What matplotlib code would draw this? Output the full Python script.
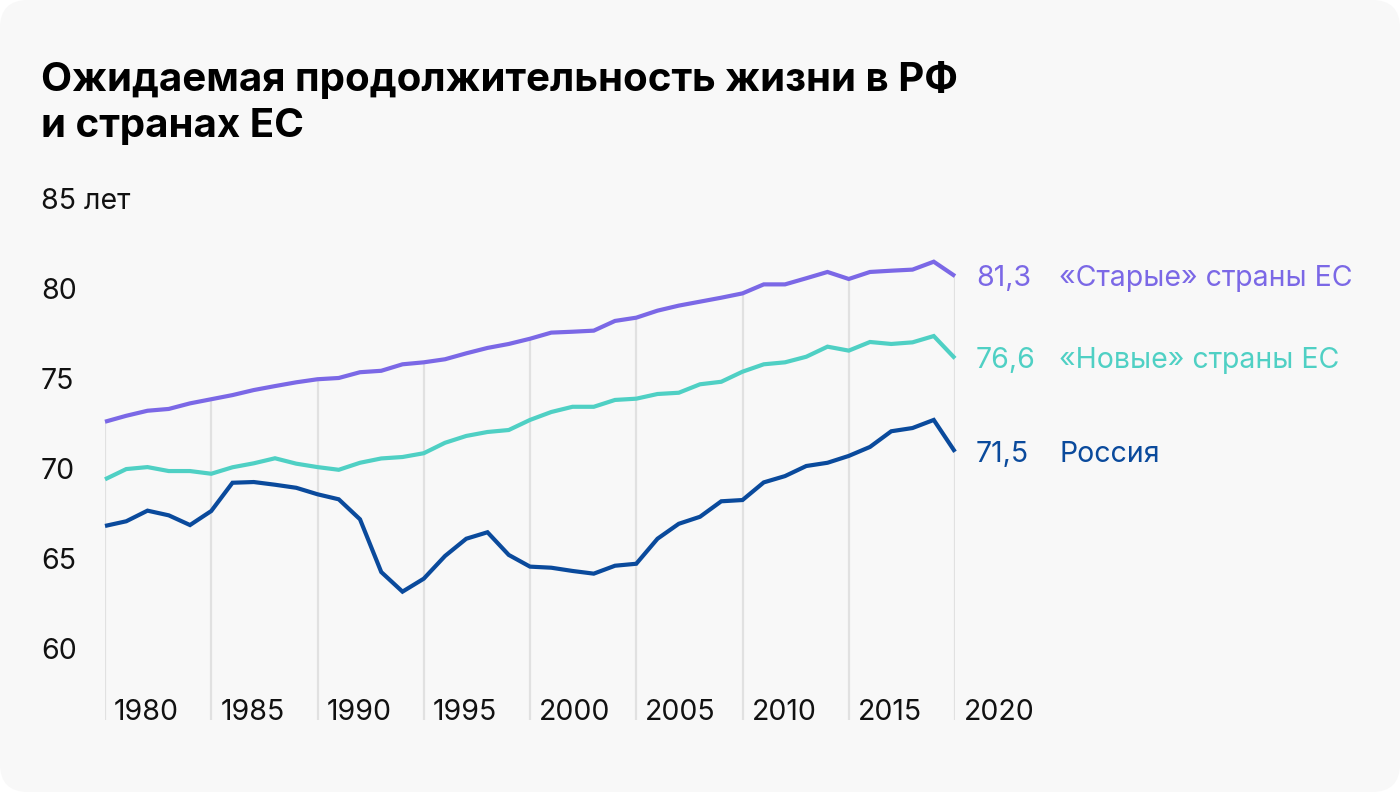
import matplotlib
matplotlib.use("Agg")
import matplotlib.pyplot as plt
from matplotlib.patches import FancyBboxPatch
from matplotlib.transforms import blended_transform_factory

years = list(range(1980, 2021))
old_eu = [73.16, 73.49, 73.77, 73.87, 74.18, 74.41, 74.64, 74.92, 75.14, 75.35,
          75.52, 75.59, 75.91, 75.99, 76.35, 76.46, 76.63, 76.96, 77.26, 77.48,
          77.77, 78.11, 78.16, 78.22, 78.76, 78.94, 79.33, 79.61, 79.83, 80.05,
          80.29, 80.79, 80.79, 81.13, 81.48, 81.09, 81.48, 81.55, 81.61, 82.05,
          81.25]
new_eu = [69.96, 70.53, 70.64, 70.42, 70.42, 70.27, 70.63, 70.85, 71.13, 70.83,
          70.64, 70.49, 70.88, 71.12, 71.20, 71.41, 71.99, 72.37, 72.59, 72.70,
          73.26, 73.70, 73.99, 73.99, 74.37, 74.44, 74.70, 74.77, 75.24, 75.38,
          75.94, 76.35, 76.46, 76.77, 77.33, 77.11, 77.59, 77.48, 77.57, 77.92,
          76.68]
russia = [67.37, 67.63, 68.22, 67.96, 67.42, 68.20, 69.77, 69.81, 69.66, 69.49,
          69.13, 68.85, 67.74, 64.81, 63.72, 64.44, 65.70, 66.66, 67.02, 65.76,
          65.11, 65.05, 64.87, 64.72, 65.16, 65.27, 66.66, 67.49, 67.88, 68.74,
          68.81, 69.79, 70.14, 70.70, 70.88, 71.26, 71.76, 72.63, 72.81, 73.26,
          71.49]

series_names = ["«Старые» страны ЕС", "«Новые» страны ЕС", "Россия"]
end_labels = ["81,3", "76,6", "71,5"]
colors = ["#7b68e6", "#4fd0c4", "#0a4a9c"]

x_ticks = [1980, 1985, 1990, 1995, 2000, 2005, 2010, 2015, 2020]
x_tick_labels = ["1980", "1985", "1990", "1995", "2000", "2005", "2010", "2015", "2020"]
y_ticks = [60, 65, 70, 75, 80, 85]
y_tick_labels = ["60", "65", "70", "75", "80", "85 лет"]

title = "Ожидаемая продолжительность жизни в РФ\nи странах ЕС"

W, H = 1400, 792
fig = plt.figure(figsize=(W / 100, H / 100), dpi=100)
fig.patch.set_facecolor("white")
bg = FancyBboxPatch((0, 0), W, H, boxstyle="round,pad=0,rounding_size=28",
                    transform=None, fc="#f8f8f8", ec="none", zorder=-10)
fig.add_artist(bg)

ax_left, ax_right = 105, 955
ax_top, ax_bottom = 208.6, 720
ax = fig.add_axes([ax_left / W, (H - ax_bottom) / H,
                   (ax_right - ax_left) / W, (ax_bottom - ax_top) / H])
ax.set_facecolor("none")
ax.set_xlim(1980, 2020)
ax.set_ylim(56.59, 85)
for s in ax.spines.values():
    s.set_visible(False)
ax.set_xticks([])
ax.set_yticks([])

reg = ["Inter", "DejaVu Sans"]
fs = 20.5

# vertical grid lines from bottom up to top series
ymin = ax.get_ylim()[0]
grid_tops = [old_eu[years.index(t)] for t in x_ticks]
ax.vlines(x_ticks, ymin, grid_tops, colors="#e1e1e1", linewidth=1.6, zorder=1)

data = [old_eu, new_eu, russia]
for vals, c, name, lab in zip(data, colors, series_names, end_labels):
    ax.plot(years, vals, color=c, linewidth=3.0, solid_joinstyle="miter",
            solid_capstyle="butt", clip_on=False, zorder=3)
    ax.annotate(lab, xy=(years[-1], vals[-1]), xytext=(21, -10),
                textcoords="offset pixels", ha="left", va="baseline",
                color=c, fontsize=fs, family=reg, annotation_clip=False)
    ax.annotate(name, xy=(years[-1], vals[-1]), xytext=(104, -10),
                textcoords="offset pixels", ha="left", va="baseline",
                color=c, fontsize=fs, family=reg, annotation_clip=False)

# y labels
ytr = blended_transform_factory(fig.transFigure, ax.transData)
for v, lab in zip(y_ticks, y_tick_labels):
    fig.text(41 / W, v, lab, transform=ytr, ha="left", va="baseline",
             fontsize=fs, family=reg, color="#111111")

# x labels
for t, lab in zip(x_ticks, x_tick_labels):
    ax.annotate(lab, xy=(t, ymin), xytext=(9, 0), textcoords="offset pixels",
                ha="left", va="baseline", fontsize=fs, family=reg,
                color="#111111", annotation_clip=False)

fig.text(41 / W, 1 - 137 / H, title, ha="left", va="baseline",
         fontsize=29, fontweight="bold", family=["Inter", "DejaVu Sans"],
         color="black", linespacing=1.3)

fig.savefig("out.png", dpi=100, facecolor="white")
